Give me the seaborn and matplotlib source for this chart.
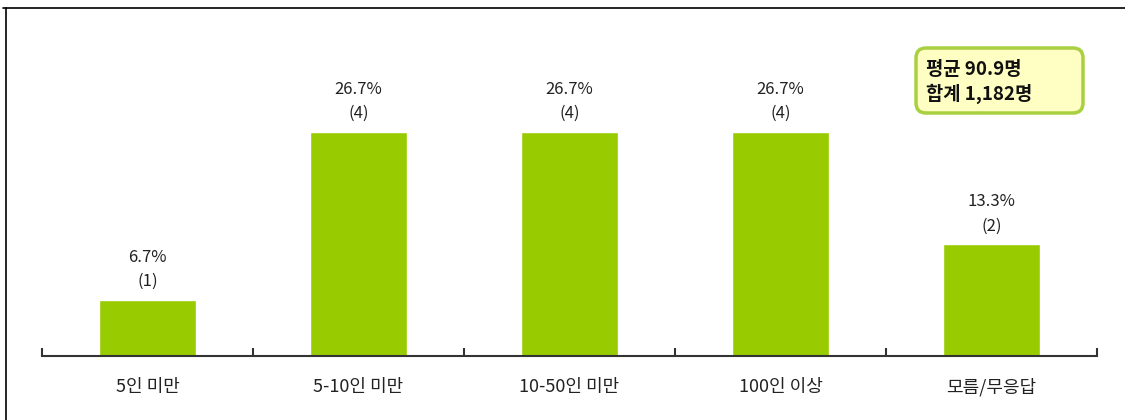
import numpy as np
import seaborn as sns
import matplotlib
matplotlib.use('Agg')
import matplotlib.pyplot as plt
from matplotlib.lines import Line2D
from matplotlib.patches import FancyBboxPatch

# chart data
categories = ['5인 미만', '5-10인 미만', '10-50인 미만', '100인 이상', '모름/무응답']
percents = [6.7, 26.7, 26.7, 26.7, 13.3]
counts = [1, 4, 4, 4, 2]
summary_lines = ['평균 90.9명', '합계 1,182명']

sns.set_style('white')
plt.rcParams['font.family'] = ['Noto Sans CJK KR', 'DejaVu Sans']

fig = plt.figure(figsize=(11.25, 4.2), dpi=100)
ax = fig.add_axes([42 / 1125, 64 / 420, (1097 - 42) / 1125, 336 / 420])

sns.barplot(x=categories, y=percents, color='#99CC00', width=0.455,
            saturation=1, ax=ax)
ax.set_xlim(-0.5, len(categories) - 0.5)
ax.set_ylim(0, 40)
ax.set_xlabel('')
ax.set_ylabel('')
ax.set_yticks([])

# spines and ticks
for s in ['top', 'right', 'left']:
    ax.spines[s].set_visible(False)
ax.spines['bottom'].set_color('#333333')
ax.spines['bottom'].set_linewidth(1.5)
ax.set_xticks(np.arange(-0.5, len(categories)), minor=True)
ax.tick_params(axis='x', which='minor', direction='in', length=6,
               width=1.5, color='#333333', bottom=True)
ax.tick_params(axis='x', which='major', length=0, pad=16,
               labelsize=13, labelcolor='#222222')

# value labels
for i, (p, c) in enumerate(zip(percents, counts)):
    ax.annotate(f'{p}%\n({c})', (i, p), xytext=(0, 7),
                textcoords='offset points', ha='center', va='bottom',
                fontsize=12, color='#222222', linespacing=1.55)

# summary box
box = FancyBboxPatch((9.16, 3.07), 1.67, 0.65,
                     boxstyle='round,pad=0,rounding_size=0.1',
                     transform=fig.dpi_scale_trans, fc='#FFFFC4',
                     ec='#A8D040', lw=2.5)
fig.add_artist(box)
fig.text(926 / 1125, 1 - 82 / 420, '\n'.join(summary_lines),
         ha='left', va='center', fontsize=13.5, fontweight='bold',
         color='#111111', linespacing=1.35)

# frame lines
fig.add_artist(Line2D([3 / 1125, 1], [1 - 8 / 420, 1 - 8 / 420],
                      color='black', lw=1.2))
fig.add_artist(Line2D([6 / 1125, 6 / 1125], [0, 1 - 8 / 420],
                      color='black', lw=1.2))

fig.savefig('out.png', dpi=100)
